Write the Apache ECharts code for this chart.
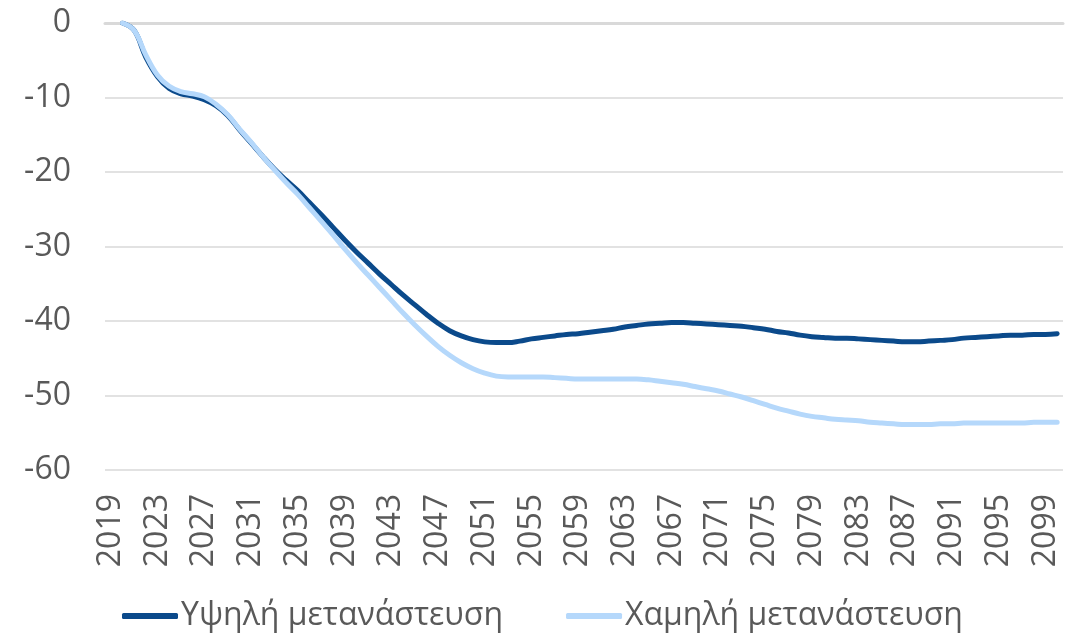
<!DOCTYPE html>
<html>
<head>
<meta charset="utf-8">
<script src="https://cdn.jsdelivr.net/npm/echarts@6/dist/echarts.min.js"></script>
<style>
  html, body { margin: 0; padding: 0; background: #ffffff; }
  #chart { width: 1076px; height: 636px; }
</style>
</head>
<body>
<div id="chart"></div>
<script>
// Years on the horizontal axis (2019–2100)
const years = [];
for (let y = 2019; y <= 2100; y++) years.push(String(y));

// Y-axis range
const yMin = -60;
const yMax = 0;
const yStep = 10;

// Series names
const highName = 'Υψηλή μετανάστευση';
const lowName = 'Χαμηλή μετανάστευση';

// High-migration scenario, one value per year from 2019
const highValues = [
  null, 0, -1.0, -4.6, -7.2, -8.8, -9.5, -9.8, -10.3, -11.1,
  -12.4, -14.3, -16.1, -17.9, -19.6, -21.1, -22.5, -24.1, -25.7, -27.4,
  -29.1, -30.7, -32.2, -33.7, -35.1, -36.5, -37.8, -39.1, -40.3, -41.3,
  -42.0, -42.5, -42.8, -42.9, -42.9, -42.7, -42.4, -42.2, -42.0, -41.8,
  -41.7, -41.5, -41.3, -41.1, -40.8, -40.6, -40.4, -40.3, -40.2, -40.2,
  -40.3, -40.4, -40.5, -40.6, -40.7, -40.9, -41.1, -41.4, -41.6, -41.9,
  -42.1, -42.2, -42.3, -42.3, -42.4, -42.5, -42.6, -42.7, -42.8, -42.8,
  -42.7, -42.6, -42.5, -42.3, -42.2, -42.1, -42.0, -41.9, -41.9, -41.8,
  -41.8, -41.7
];

// Low-migration scenario, one value per year from 2019
const lowValues = [
  null, 0, -1.0, -4.3, -7.0, -8.5, -9.2, -9.5, -9.9, -10.9,
  -12.3, -14.2, -16.0, -17.9, -19.7, -21.4, -23.0, -24.8, -26.6, -28.4,
  -30.3, -32.1, -33.8, -35.5, -37.2, -38.9, -40.5, -42.0, -43.4, -44.6,
  -45.6, -46.4, -47.0, -47.4, -47.5, -47.5, -47.5, -47.5, -47.6, -47.7,
  -47.8, -47.8, -47.8, -47.8, -47.8, -47.8, -47.9, -48.1, -48.3, -48.5,
  -48.8, -49.1, -49.4, -49.8, -50.2, -50.7, -51.2, -51.7, -52.1, -52.5,
  -52.8, -53.0, -53.2, -53.3, -53.4, -53.6, -53.7, -53.8, -53.9, -53.9,
  -53.9, -53.8, -53.8, -53.7, -53.7, -53.7, -53.7, -53.7, -53.7, -53.6,
  -53.6, -53.6
];

const textColor = '#595959';
const gridColor = '#d9d9d9';
const fontFamily = '"Open Sans", "Noto Sans", sans-serif';

const chart = echarts.init(document.getElementById('chart'), null, { renderer: 'canvas' });

chart.setOption({
  animation: false,
  backgroundColor: '#ffffff',
  textStyle: { fontFamily: fontFamily },
  grid: { left: 105, right: 13, top: 23, bottom: 166, containLabel: false },
  legend: {
    data: [highName, lowName],
    left: 122,
    top: 600,
    padding: 0,
    icon: 'roundRect',
    itemWidth: 56,
    itemHeight: 6,
    itemGap: 63,
    textStyle: { color: textColor, fontSize: 32, fontFamily: fontFamily, padding: [0, 0, 0, -2] }
  },
  xAxis: [
    {
      type: 'category',
      data: years,
      position: 'bottom',
      boundaryGap: true,
      axisLine: { show: false, onZero: false },
      axisTick: { show: false },
      splitLine: { show: false },
      axisLabel: {
        interval: 3,
        rotate: 90,
        margin: 24,
        color: textColor,
        fontSize: 32,
        fontFamily: fontFamily
      }
    },
    {
      // Horizontal axis line drawn along zero at the top of the plot
      type: 'category',
      data: years,
      position: 'top',
      boundaryGap: true,
      axisLine: { show: true, onZero: false, lineStyle: { color: gridColor, width: 3 } },
      axisTick: { show: false },
      axisLabel: { show: false },
      splitLine: { show: false }
    }
  ],
  yAxis: {
    type: 'value',
    min: yMin,
    max: yMax,
    interval: yStep,
    axisLine: { show: false },
    axisTick: { show: false },
    axisLabel: {
      color: textColor,
      fontSize: 32,
      margin: 34,
      fontFamily: fontFamily
    },
    splitLine: { show: true, lineStyle: { color: gridColor, width: 1.5 } }
  },
  series: [
    {
      name: highName,
      type: 'line',
      data: highValues,
      smooth: 0.4,
      showSymbol: false,
      symbol: 'none',
      itemStyle: { color: '#0B4A8B' },
      lineStyle: { color: '#0B4A8B', width: 5, cap: 'round', join: 'round' }
    },
    {
      name: lowName,
      type: 'line',
      data: lowValues,
      smooth: 0.4,
      showSymbol: false,
      symbol: 'none',
      itemStyle: { color: '#B5D8FB' },
      lineStyle: { color: '#B5D8FB', width: 5, cap: 'round', join: 'round' }
    }
  ]
});
</script>
</body>
</html>
